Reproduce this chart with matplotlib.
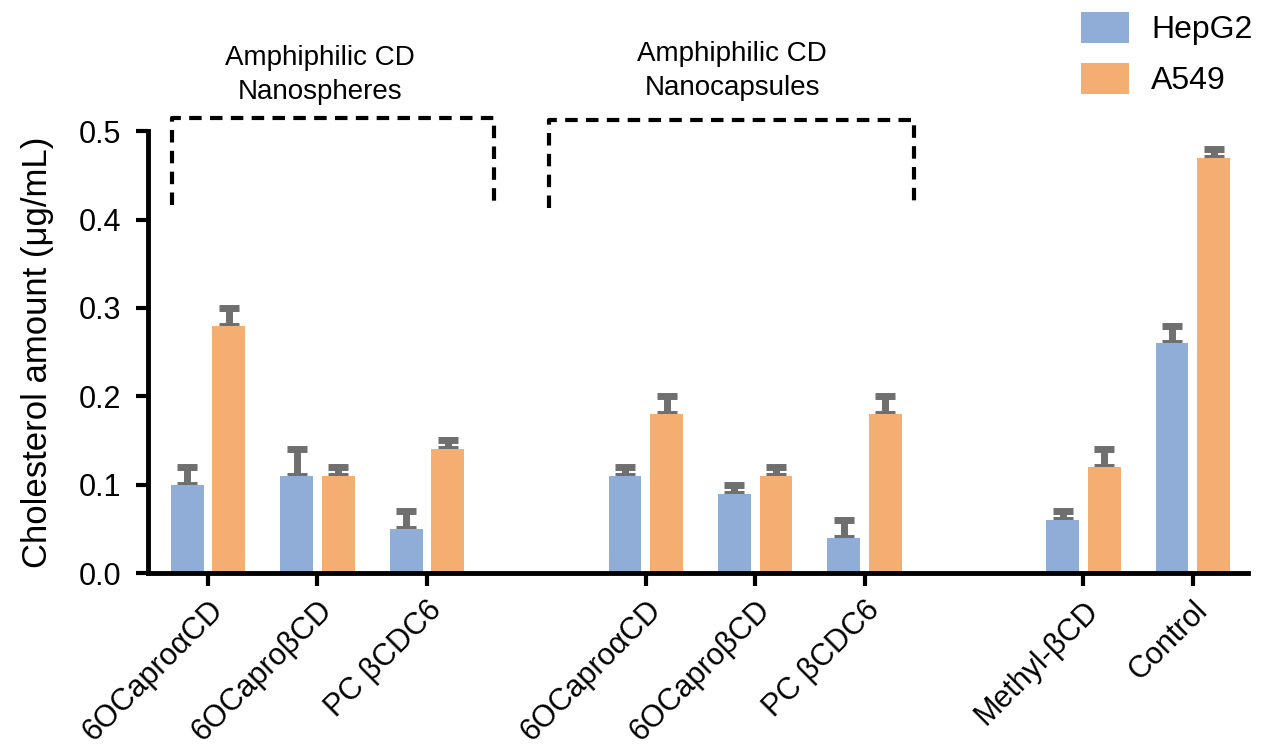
import matplotlib.pyplot as plt
import numpy as np

plt.rcParams['font.family'] = ['Liberation Sans', 'DejaVu Sans']

# samples and their positions along the x axis (gaps between the three groups)
samples = ['6OCapro\u03b1CD', '6OCapro\u03b2CD', 'PC \u03b2CDC6',
           '6OCapro\u03b1CD', '6OCapro\u03b2CD', 'PC \u03b2CDC6',
           'Methyl-\u03b2CD', 'Control']
positions = [0, 1, 2, 4, 5, 6, 8, 9]

# cholesterol amount (ug/mL) and upper error
hepg2 = [0.10, 0.11, 0.05, 0.11, 0.09, 0.04, 0.06, 0.26]
hepg2_err = [0.02, 0.03, 0.02, 0.01, 0.01, 0.02, 0.01, 0.02]
a549 = [0.28, 0.11, 0.14, 0.18, 0.11, 0.18, 0.12, 0.47]
a549_err = [0.02, 0.01, 0.01, 0.02, 0.01, 0.02, 0.02, 0.01]

blue = '#8fadd6'
orange = '#f5ae72'
err_color = '#6f6f6f'


def main():
    fig = plt.figure(figsize=(12.64, 7.54), dpi=100)
    ax = fig.add_axes([0.117, 0.240, 0.870, 0.586])

    x = np.array(positions, dtype=float)
    w = 0.30
    off = 0.19
    n = len(x)

    ax.bar(x - off, hepg2, w, color=blue, label='HepG2', zorder=2)
    ax.bar(x + off, a549, w, color=orange, label='A549', zorder=2)

    # only the upper half of each error bar is drawn
    ekw = dict(fmt='none', ecolor=err_color, elinewidth=5, capsize=7, capthick=5, zorder=1)
    ax.errorbar(x - off, hepg2, yerr=[np.zeros(n), hepg2_err], **ekw)
    ax.errorbar(x + off, a549, yerr=[np.zeros(n), a549_err], **ekw)

    ax.set_xlim(-0.55, 9.5)
    ax.set_ylim(0, 0.5)
    ax.set_yticks(np.arange(0, 0.51, 0.1))
    ax.set_yticklabels(['%.1f' % v for v in np.arange(0, 0.51, 0.1)])
    ax.set_xticks(x)
    ax.set_xticklabels(samples, rotation=45, ha='right', rotation_mode='anchor')

    ax.tick_params(axis='both', labelsize=22, width=3, length=9, direction='out')
    ax.tick_params(axis='y', pad=10)
    ax.tick_params(axis='x', pad=7)
    ax.set_ylabel('Cholesterol amount (\u03bcg/mL)', fontsize=25, labelpad=18)

    for s in ['top', 'right']:
        ax.spines[s].set_visible(False)
    for s in ['left', 'bottom']:
        ax.spines[s].set_linewidth(3.5)

    # dashed brackets above the nanoparticle groups
    dash = dict(color='black', linestyle=(0, (3, 2)), lw=3, clip_on=False)
    ax.plot([-0.33, -0.33, 2.61, 2.61], [0.417, 0.515, 0.515, 0.417], **dash)
    ax.plot([3.12, 3.12, 6.45, 6.45], [0.413, 0.513, 0.513, 0.413], **dash)

    ax.text(1.02, 0.530, 'Amphiphilic CD\nNanospheres', ha='center', va='bottom',
            fontsize=20, linespacing=1.4)
    ax.text(4.79, 0.534, 'Amphiphilic CD\nNanocapsules', ha='center', va='bottom',
            fontsize=20, linespacing=1.4)

    ax.legend(loc='upper left', bbox_to_anchor=(0.837, 1.298), frameon=False,
              fontsize=23, handlelength=1.5, handleheight=1.1, handletextpad=0.7,
              labelspacing=0.55, borderaxespad=0)

    plt.savefig('out.png', dpi=100)


if __name__ == '__main__':
    main()
